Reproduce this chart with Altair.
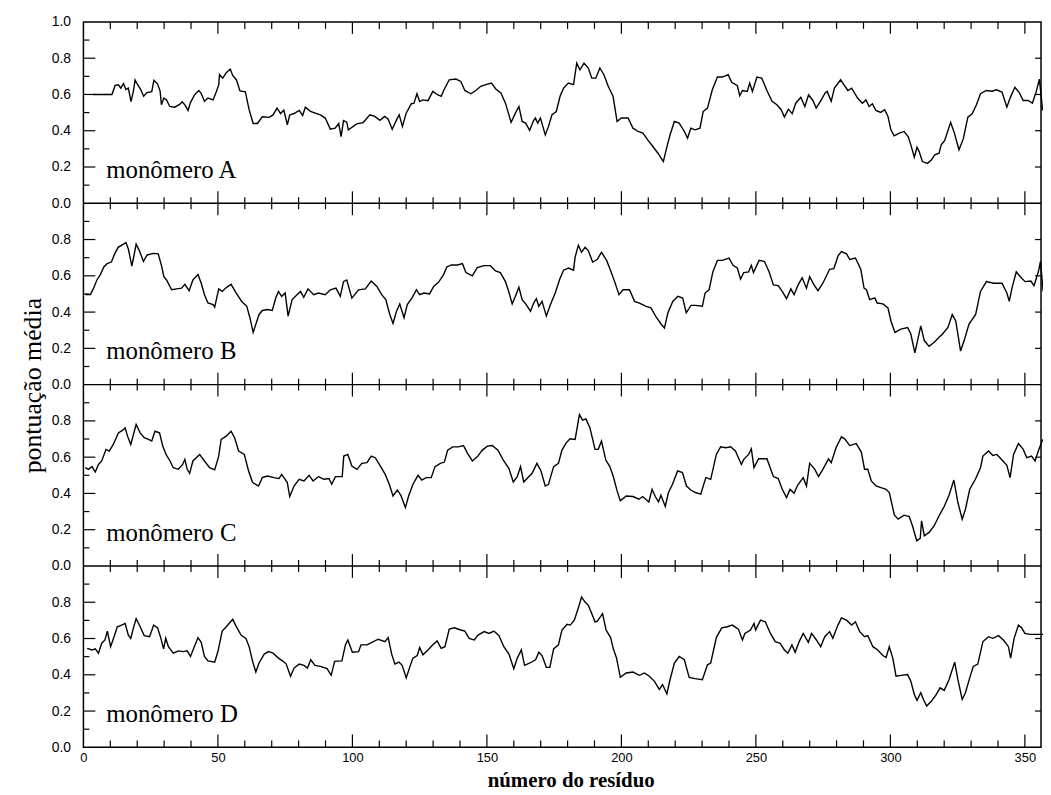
import altair as alt
import pandas as pd

# (residue, mean score)
monomero_A = [(3.7,.600),(10.6,.600),(11.8,.650),(13.0,.653),(13.9,.635),(14.9,.660),(15.8,.627),(16.7,.635),(17.7,.560),(18.6,.620),(19.2,.680),(20.1,.655),(21.2,.630),(22.4,.590),(23.6,.610),(25.4,.615),(26.2,.678),(27.5,.660),(28.5,.620),(29.0,.543),(29.9,.580),(30.9,.570),(32.1,.534),(33.9,.530),(35.8,.545),(36.7,.560),(37.6,.545),(38.9,.512),(39.8,.555),(41.3,.598),(42.9,.622),(43.7,.608),(45.0,.562),(46.3,.580),(48.2,.570),(49.4,.615),(50.3,.653),(50.6,.709),(51.8,.690),(53.1,.720),(54.6,.740),(55.5,.705),(56.9,.680),(58.2,.620),(60.2,.615),(61.6,.516),(63.1,.440),(64.7,.440),(66.5,.477),(69.0,.474),(70.5,.487),(72.0,.525),(73.3,.495),(74.5,.514),(75.8,.433),(76.7,.487),(78.3,.495),(80.2,.512),(81.5,.484),(82.5,.530),(84.4,.507),(86.2,.497),(88.1,.487),(89.9,.470),(91.8,.409),(93.6,.414),(94.9,.440),(95.8,.368),(96.7,.456),(97.9,.447),
(98.5,.405),(101.6,.438),(104.0,.445),(106.5,.488),(108.3,.479),(110.2,.457),(112.0,.479),(113.3,.464),(114.8,.408),(116.4,.460),(117.4,.488),(118.6,.424),(120.0,.497),(121.9,.549),(122.9,.552),(124.0,.604),(125.0,.561),(126.2,.570),(128.1,.566),(129.9,.617),(131.5,.600),(133.0,.590),(134.2,.630),(136.0,.681),(138.5,.685),(140.3,.672),(141.8,.622),(144.0,.604),(145.9,.622),(147.7,.645),(149.6,.654),(151.7,.663),(153.3,.630),(155.2,.608),(156.9,.552),(159.0,.446),(160.6,.497),(161.9,.534),(163.1,.451),(164.4,.442),(165.9,.402),(167.2,.451),(168.0,.470),(168.9,.442),(169.9,.470),(171.7,.377),(172.9,.424),(174.2,.488),(175.8,.506),(177.2,.590),(178.5,.635),(180.3,.663),(182.2,.654),(183.4,.773),(184.6,.736),(186.1,.773),(187.7,.746),(189.0,.690),(190.5,.690),(192.0,.746),(193.5,.709),(195.1,.645),(196.9,.590),(198.4,.451),(200.0,.470),(202.5,.470),(204.3,.414),(206.2,.396),(208.0,.387),(209.8,.350),(211.7,.313),(213.6,.276),(215.6,.230),(216.8,.304),(218.1,.378),(219.7,.451),(221.5,.442),(223.4,.396),(224.6,.359),(225.8,.414),(227.4,.405),
(229.2,.414),(230.4,.506),(232.0,.525),(233.8,.626),(235.7,.696),(237.5,.696),(239.7,.709),(241.0,.667),(243.1,.648),(244.0,.593),(245.0,.622),(246.8,.617),(247.7,.663),(248.7,.617),(250.4,.696),(252.2,.690),(254.1,.622),(256.0,.562),(257.8,.543),(259.4,.516),(260.6,.475),(262.1,.519),(263.5,.494),(264.8,.552),(266.7,.585),(268.2,.534),(269.6,.598),(271.2,.567),(272.4,.525),(274.0,.562),(275.8,.610),(276.5,.617),(278.0,.562),(279.2,.635),(281.5,.681),(282.7,.654),(284.2,.622),(285.6,.635),(287.8,.580),(289.6,.552),(290.9,.570),(292.1,.534),(293.3,.549),(294.6,.512),(296.4,.501),(297.9,.516),(299.1,.479),(300.2,.405),(301.4,.372),(303.3,.387),(305.1,.396),(306.6,.368),(307.6,.322),(308.9,.254),(309.9,.309),(310.7,.285),(311.9,.230),(313.8,.220),(315.3,.240),(316.5,.267),(318.1,.276),(318.9,.322),(320.2,.346),(322.4,.446),(323.8,.387),(325.5,.295),(327.1,.355),(328.8,.475),(330.4,.494),(332.0,.543),(333.5,.604),(335.7,.622),(337.8,.618),(339.4,.626),(341.5,.613),(343.3,.530),(344.5,.580),(346.3,.640),(347.9,.610),(349.4,.567),(351.2,.567),(352.8,.552),(354.3,.620),(355.4,.685),(356.6,.512)]

monomero_B = [(0.7,.496),(2.6,.496),(3.8,.532),(5.0,.577),(6.2,.604),(7.6,.649),(8.8,.667),(10.4,.676),(11.6,.721),(12.9,.757),(14.9,.775),(15.8,.784),(16.7,.748),(18.0,.654),(18.8,.712),(19.6,.775),(20.8,.739),(22.3,.679),(23.7,.715),(26.0,.724),(27.8,.721),(29.0,.658),(29.9,.595),(30.9,.577),(32.8,.523),(34.6,.528),(36.5,.532),(37.7,.553),(39.3,.518),(40.7,.577),(42.6,.607),(43.8,.559),(45.0,.496),(46.3,.450),(48.2,.441),(48.8,.427),(50.3,.528),(51.6,.514),(53.1,.535),(54.9,.553),(56.8,.505),(59.0,.456),(60.7,.433),(61.9,.369),(63.1,.288),(64.1,.333),(65.3,.387),(66.5,.409),(68.4,.414),(70.2,.409),(71.5,.478),(72.5,.514),(73.7,.487),(75.0,.505),(76.1,.378),(77.6,.469),(79.4,.496),(80.7,.514),(81.9,.482),(83.5,.528),(85.6,.496),(87.4,.505),(89.9,.496),(91.8,.523),(93.9,.532),(95.5,.487),(96.7,.568),(97.9,.577),
(99.8,.477),(102.3,.523),(104.8,.528),(107.0,.571),(109.1,.541),(110.9,.496),(112.4,.469),(113.9,.387),(115.1,.337),(116.4,.405),(117.6,.445),(119.2,.369),(120.4,.441),(122.1,.477),(123.8,.523),(125.0,.496),(126.6,.505),(128.7,.500),(130.2,.541),(132.0,.564),(133.9,.607),(135.1,.649),(136.8,.660),(139.1,.660),(140.9,.667),(142.2,.618),(144.6,.600),(146.4,.645),(148.9,.656),(151.3,.656),(153.2,.627),(155.0,.618),(156.9,.568),(158.1,.514),(159.4,.445),(160.6,.487),(161.9,.537),(163.1,.469),(164.4,.445),(166.2,.405),(167.4,.450),(168.4,.474),(169.3,.432),(170.5,.459),(172.1,.378),(173.6,.441),(175.4,.505),(177.1,.582),(178.5,.631),(180.3,.643),(182.2,.631),(182.8,.703),(184.0,.769),(185.2,.730),(186.5,.757),(187.7,.739),(189.3,.676),(191.0,.690),(192.6,.730),(194.5,.685),(195.7,.640),(197.5,.568),(199.1,.496),(200.6,.523),(203.0,.523),(204.9,.459),(206.7,.450),(209.2,.432),(211.0,.423),(212.9,.373),(214.8,.333),(216.0,.312),(217.3,.396),(219.1,.459),(221.0,.487),(222.8,.477),(224.1,.396),(225.9,.437),(227.5,.437),
(230.1,.432),(231.1,.505),(232.6,.523),(234.0,.622),(235.7,.685),(237.5,.685),(240.0,.698),(241.5,.658),(243.1,.643),(244.3,.582),(245.5,.618),(247.3,.622),(248.3,.658),(249.1,.618),(251.2,.685),(253.2,.679),(254.9,.622),(256.5,.550),(258.3,.546),(259.8,.514),(261.4,.474),(263.0,.528),(264.2,.496),(265.7,.550),(267.2,.589),(268.8,.532),(270.0,.595),(271.6,.550),(273.1,.518),(274.9,.559),(277.4,.636),(279.0,.640),(280.6,.712),(281.8,.734),(283.7,.721),(284.9,.690),(287.0,.698),(289.0,.636),(290.2,.532),(291.1,.523),(292.3,.469),(294.2,.478),(295.1,.450),(297.2,.445),(299.1,.423),(300.2,.351),(301.7,.288),(303.9,.306),(306.4,.315),(307.6,.279),(309.1,.175),(310.1,.243),(311.3,.324),(312.6,.243),(314.4,.211),(316.3,.234),(318.1,.261),(319.4,.279),(321.4,.315),(323.0,.387),(324.3,.351),(326.1,.185),(327.6,.252),(329.2,.333),(331.7,.387),(333.5,.514),(335.7,.568),(338.4,.559),(341.5,.559),(343.3,.505),(344.2,.459),(345.2,.532),(346.8,.622),(348.3,.595),(350.1,.568),(352.2,.571),(353.4,.546),(355.0,.622),(355.8,.679),(356.8,.514)]

monomero_C = [(0.7,.542),(1.9,.533),(3.2,.548),(4.4,.518),(5.6,.560),(6.8,.579),(8.4,.643),(9.6,.634),(11.1,.670),(13.0,.734),(14.6,.749),(15.5,.762),(16.4,.716),(17.6,.670),(18.6,.725),(19.6,.780),(21.1,.734),(22.6,.707),(24.2,.698),(25.4,.689),(26.6,.743),(28.3,.734),(29.5,.661),(30.7,.615),(32.2,.579),(33.4,.542),(35.3,.533),(36.9,.560),(37.7,.588),(38.6,.533),(39.5,.511),(40.7,.579),(43.2,.615),(45.0,.579),(46.9,.542),(48.8,.530),(50.3,.606),(51.2,.698),(53.1,.716),(54.9,.743),(56.2,.707),(57.7,.634),(59.8,.615),(61.4,.524),(62.9,.460),(65.1,.441),(66.5,.487),(68.4,.496),(70.8,.487),(72.7,.482),(73.7,.505),(75.0,.478),(75.8,.460),(76.7,.383),(78.3,.441),(80.2,.478),(82.0,.469),(83.9,.500),(85.4,.469),(87.4,.493),(89.4,.478),(91.3,.482),(92.3,.451),(93.7,.493),(96.2,.493),(96.8,.606),(98.3,.615),
(99.8,.551),(101.7,.533),(103.5,.566),(105.4,.570),(107.0,.606),(108.5,.597),(110.4,.551),(112.2,.505),(113.7,.451),(115.1,.386),(116.7,.419),(118.0,.390),(119.7,.322),(120.9,.386),(122.5,.451),(124.4,.500),(125.8,.474),(127.4,.487),(129.3,.487),(130.7,.548),(132.7,.566),(134.2,.573),(135.4,.639),(137.3,.657),(139.4,.657),(141.3,.664),(142.8,.621),(144.6,.579),(146.5,.603),(148.3,.639),(150.2,.661),(152.0,.664),(154.1,.639),(156.1,.584),(158.2,.537),(159.8,.463),(161.3,.493),(162.5,.548),(163.7,.463),(165.2,.487),(166.8,.511),(168.6,.566),(170.1,.524),(171.7,.441),(172.9,.450),(174.8,.548),(176.6,.566),(177.9,.639),(179.5,.679),(180.9,.701),(182.8,.698),(184.4,.835),(185.6,.804),(186.8,.811),(188.3,.762),(190.2,.643),(191.4,.643),(192.6,.689),(194.2,.584),(195.7,.548),(197.0,.493),(198.4,.414),(199.6,.359),(201.8,.386),(204.3,.383),(206.5,.368),(207.9,.383),(210.2,.353),(211.4,.423),(212.6,.383),(213.8,.353),(214.7,.390),(216.3,.328),(217.5,.405),(219.0,.451),(220.9,.524),(222.7,.515),(224.2,.441),(225.8,.419),(227.5,.405),
(229.5,.396),(231.4,.487),(233.2,.478),(235.3,.615),(236.9,.657),(238.8,.652),(240.6,.657),(242.4,.634),(244.6,.560),(245.5,.588),(247.3,.615),(248.3,.646),(249.3,.542),(251.0,.591),(254.1,.591),(256.5,.493),(258.3,.482),(259.8,.423),(261.4,.377),(262.7,.423),(264.2,.401),(265.5,.445),(267.6,.487),(268.8,.441),(270.0,.566),(271.9,.533),(273.3,.493),(274.9,.533),(277.0,.591),(278.0,.570),(279.8,.652),(281.8,.712),(283.0,.701),(284.9,.664),(287.3,.675),(289.2,.628),(290.4,.533),(291.6,.533),(292.9,.469),(294.7,.441),(296.5,.432),(298.4,.423),(299.6,.405),(301.5,.280),(302.9,.258),(305.1,.280),(307.0,.273),(308.2,.222),(309.8,.139),(311.1,.152),(311.6,.249),(312.6,.166),(314.4,.185),(316.3,.222),(318.1,.277),(320.0,.328),(321.8,.390),(323.6,.474),(325.1,.350),(326.7,.258),(327.9,.313),(329.5,.423),(331.6,.478),(333.5,.542),(334.4,.606),(336.5,.634),(338.1,.609),(339.6,.615),(341.5,.584),(343.3,.555),(344.5,.487),(345.8,.615),(347.6,.675),(349.4,.643),(350.7,.597),(352.5,.606),(353.8,.579),(355.0,.634),(356.6,.698)]

monomero_D = [(1.4,.546),(3.2,.537),(4.4,.543),(5.6,.519),(6.8,.574),(8.0,.592),(8.9,.641),(10.1,.555),(11.4,.610),(12.6,.665),(14.2,.674),(15.5,.683),(16.7,.619),(17.6,.601),(18.6,.659),(19.6,.710),(21.1,.665),(22.6,.616),(24.6,.610),(26.1,.674),(27.6,.659),(28.8,.601),(29.8,.543),(30.6,.601),(31.6,.555),(33.4,.519),(35.3,.532),(37.1,.528),(38.6,.532),(39.8,.501),(41.0,.546),(42.6,.605),(43.8,.579),(45.0,.501),(46.3,.477),(48.8,.470),(50.0,.528),(51.6,.641),(53.1,.665),(55.5,.706),(56.7,.670),(58.6,.619),(60.4,.601),(61.6,.555),(62.9,.474),(64.1,.415),(65.3,.465),(67.2,.514),(68.8,.528),(70.5,.519),(72.5,.492),(74.0,.477),(75.4,.459),(77.0,.392),(78.3,.437),(80.2,.459),(82.0,.452),(83.3,.437),(84.5,.483),(86.1,.452),(88.1,.446),(90.6,.434),(92.1,.397),(93.4,.474),(96.1,.477),(97.4,.565),(98.3,.592),
(100.0,.524),(102.3,.528),(103.2,.565),(105.4,.565),(107.8,.583),(109.6,.596),(112.1,.583),(113.3,.605),(114.6,.514),(115.8,.459),(117.3,.470),(118.5,.452),(120.0,.383),(121.3,.441),(122.5,.492),(124.1,.506),(125.0,.550),(126.2,.510),(128.1,.537),(129.9,.565),(131.5,.587),(133.0,.546),(134.4,.555),(136.0,.652),(137.9,.659),(140.3,.647),(141.8,.641),(143.4,.601),(145.3,.592),(146.7,.619),(149.0,.638),(150.8,.628),(152.6,.641),(154.5,.616),(156.3,.555),(158.2,.514),(160.0,.433),(161.3,.492),(162.8,.537),(164.0,.452),(166.0,.465),(168.1,.483),(169.3,.524),(170.5,.506),(172.1,.441),(173.4,.441),(174.8,.543),(176.6,.565),(177.9,.647),(179.8,.678),(181.0,.674),(182.5,.701),(184.1,.774),(185.2,.829),(186.5,.801),(187.7,.783),(189.0,.737),(190.2,.692),(191.0,.695),(193.0,.737),(194.3,.647),(196.0,.605),(197.0,.543),(198.2,.492),(199.6,.386),(201.8,.410),(204.3,.415),(206.7,.397),(208.6,.410),(210.4,.392),(212.3,.364),(214.1,.319),(215.3,.346),(216.9,.295),(218.1,.374),(219.7,.465),(221.5,.501),(223.4,.483),(225.2,.386),(227.4,.379),
(230.1,.373),(232.0,.455),(233.2,.465),(235.3,.605),(237.3,.659),(239.4,.665),(241.2,.674),(243.5,.652),(245.0,.592),(245.9,.628),(248.0,.647),(249.3,.683),(249.9,.647),(251.7,.701),(253.5,.692),(255.4,.628),(257.2,.583),(259.0,.574),(260.6,.537),(261.9,.519),(263.4,.565),(264.6,.524),(266.1,.583),(267.6,.628),(269.5,.579),(270.7,.628),(272.5,.592),(274.1,.555),(275.6,.610),(277.4,.638),(278.6,.601),(280.5,.674),(281.8,.714),(283.7,.701),(285.6,.674),(287.0,.692),(288.6,.638),(290.4,.610),(291.6,.616),(293.5,.555),(295.3,.537),(297.2,.506),(298.4,.495),(299.6,.555),(300.9,.492),(302.1,.392),(304.0,.397),(306.4,.401),(307.6,.364),(308.9,.291),(309.9,.259),(311.3,.301),(312.3,.264),(313.5,.228),(315.3,.255),(316.9,.288),(318.5,.328),(320.0,.314),(321.8,.373),(323.9,.470),(325.1,.373),(326.7,.264),(327.9,.301),(329.5,.383),(330.8,.446),(332.5,.459),(334.4,.583),(336.5,.610),(338.1,.601),(340.2,.616),(342.0,.592),(343.9,.555),(344.7,.492),(346.0,.601),(347.6,.674),(348.8,.659),(350.0,.628),(351.9,.623),(356.8,.623)]

painel_nomes = ["monômero A", "monômero B", "monômero C", "monômero D"]
x_labels = [0, 50, 100, 150, 200, 250, 300, 350]
x_ticks = list(range(10, 351, 10))
y_labels = [round(i * 0.2, 1) for i in range(21)]
y_ticks = [round(i * 0.1, 1) for i in range(1, 40) if i % 10 != 0]

X_MAX = 356
W, H = 965, 731
px_x = W / X_MAX          # pixels per residue
px_y = H / 4.0            # pixels per score unit (4 stacked panels)

series = [monomero_A, monomero_B, monomero_C, monomero_D]
rows = []
for k, (nome, pts) in enumerate(zip(painel_nomes, series)):
    off = 3 - k
    for r, v in pts:
        rows.append({"painel": nome, "residuo": r, "pontuacao": v, "yy": v + off})
df = pd.DataFrame(rows)

# tick marks (inward on the frame, crossing on the panel boundaries)
tk = []
for t in x_ticks:
    big = t % 50 == 0
    tk.append({"x": t, "x2": t, "y": 4, "y2": 4 - (12 if big else 7) / px_y})
    tk.append({"x": t, "x2": t, "y": 0, "y2": (13 if big else 7) / px_y})
    for b in (1, 2, 3):
        L = (12 if big else 6) / px_y
        tk.append({"x": t, "x2": t, "y": b - L, "y2": b + L})
for v in y_ticks:
    big = round(v * 10) % 2 == 0
    tk.append({"x": 0, "x2": (12 if big else 6) / px_x, "y": v, "y2": v})
    if big:
        tk.append({"x": X_MAX - 6 / px_x, "x2": X_MAX, "y": v, "y2": v})
tk_df = pd.DataFrame(tk)

rules_df = pd.DataFrame({"b": [1, 2, 3]})
lab_df = pd.DataFrame({"t": painel_nomes, "x": [8.5] * 4,
                       "y": [3 - k + 0.14 for k in range(4)]})

xs = alt.Scale(domain=[0, X_MAX], nice=False, zero=False)
ys = alt.Scale(domain=[0, 4], nice=False, zero=False)

lines = alt.Chart(df).mark_line(color="black", strokeWidth=1.4).encode(
    x=alt.X("residuo:Q", scale=xs, axis=alt.Axis(
        orient="bottom", values=x_labels, grid=False, domain=False,
        tickSize=0, tickOpacity=0,
        labelPadding=4, labelFlush=False, labelOverlap=False, labelFontSize=13,
        title="número do resíduo", titleFont="Liberation Serif", titleFontSize=21,
        titleFontWeight="bold", titleColor="black", titleX=491, titleY=39,
        titleBaseline="alphabetic", titleAlign="center")),
    y=alt.Y("yy:Q", scale=ys, axis=alt.Axis(
        orient="left", values=y_labels, grid=False, domain=False,
        tickSize=0, tickOpacity=0,
        labelExpr="datum.value >= 3.95 ? '1.0' : format(datum.value - floor(datum.value + 0.001), '.1f')",
        labelPadding=13, labelFlush=False, labelOverlap=False,
        title="pontuação média", titleFont="Liberation Serif", titleFontSize=26,
        titleFontWeight="normal", titleColor="black", titleX=-43, titleY=366,
        titleBaseline="alphabetic", titleAlign="center", titleAngle=270)),
    detail="painel:N",
)

rules = alt.Chart(rules_df).mark_rule(color="black", strokeWidth=1.5).encode(
    y=alt.Y("b:Q", scale=ys, axis=None))

ticks = alt.Chart(tk_df).mark_rule(color="black", strokeWidth=1.2).encode(
    x=alt.X("x:Q", scale=xs, axis=None), x2="x2:Q",
    y=alt.Y("y:Q", scale=ys, axis=None), y2="y2:Q",
)

texts = alt.Chart(lab_df).mark_text(align="left", baseline="alphabetic", font="Liberation Serif",
                                     fontSize=25, color="black").encode(
    x=alt.X("x:Q", scale=xs, axis=None),
    y=alt.Y("y:Q", scale=ys, axis=None),
    text="t:N",
)

chart = alt.layer(rules, ticks, texts, lines).resolve_axis(
    x="independent", y="independent"
).properties(
    width=W, height=H,
    autosize=alt.AutoSizeParams(type="none"),
    padding={"left": 76, "top": 11, "right": 2, "bottom": 44},
).configure_view(stroke="black", strokeWidth=1.5).configure_axis(
    labelFont="Liberation Sans", labelFontSize=14, labelColor="black",
)

chart.save("out.html", embed_options={"renderer": "svg", "actions": False})
